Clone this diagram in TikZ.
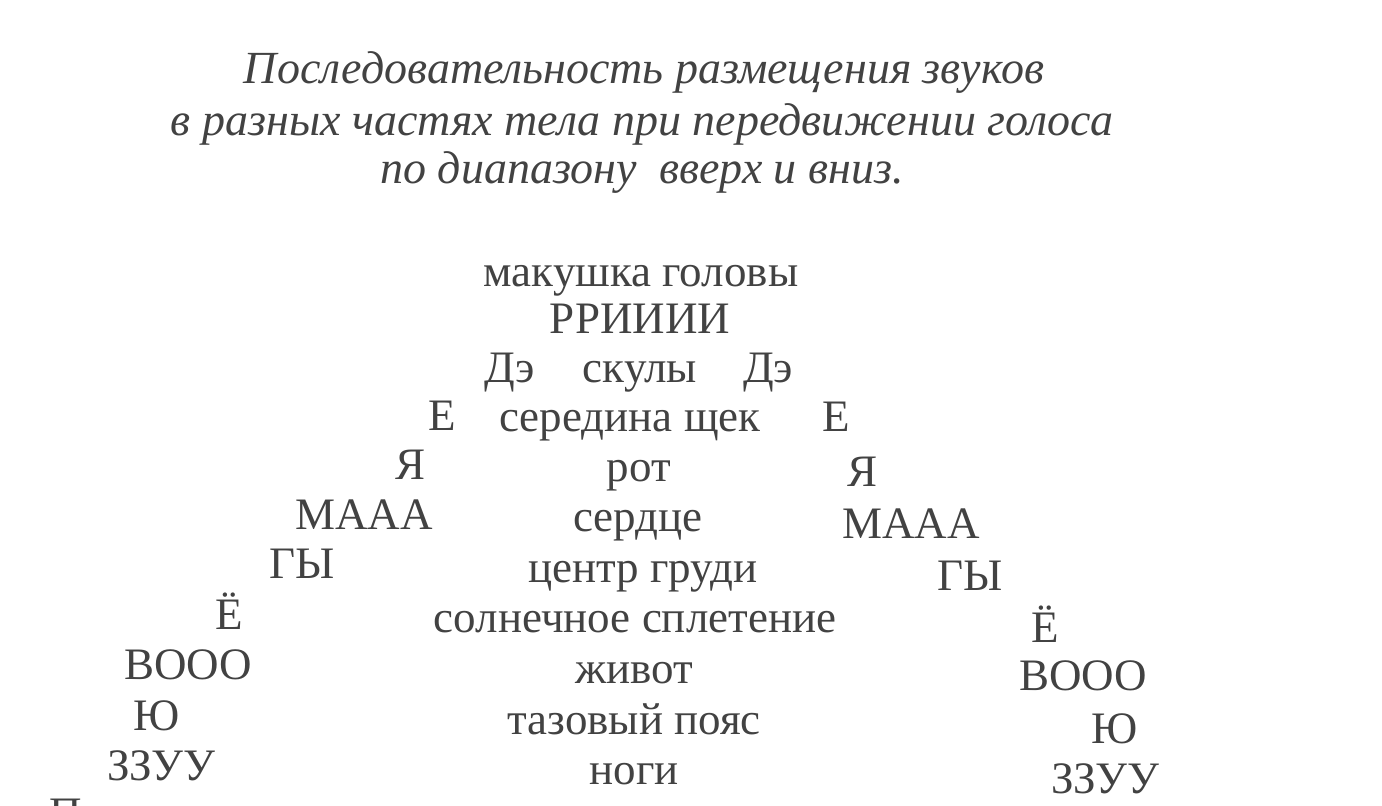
\documentclass[tikz,border=0pt]{standalone}
\usepackage{fontspec}
\setmainfont{Liberation Serif}
\usetikzlibrary{positioning}

\begin{document}
\begin{tikzpicture}[
	x=1pt, y=-1pt,
	every node/.style = {inner sep=0pt, outer sep=0pt, anchor=base, text=black!74},
	ttl/.style = {font=\fontsize{46}{54}\selectfont\itshape},
	part/.style = {font=\fontsize{45}{52}\selectfont},
	snd/.style = {font=\fontsize{45}{52}\selectfont}
     ]
	\useasboundingbox (0,0) rectangle (1382,806);
	\clip (0,0) rectangle (1382,806);
%
		\node[ttl] (t1) at (644,83) {Последовательность размещения звуков};
		\node[ttl] (t2) at (642,135) {в разных частях тела при передвижении голоса};
		\node[ttl] (t3) at (642,183) {по диапазону\ \ вверх и вниз.};
%
		\node[part] (p1)  at (641,286) {макушка головы};
		\node[snd]  (p2)  at (640,333) {РРИИИИ};
		\node[part] (p3)  at (640,382) {скулы};
		\node[part] (p4)  at (630,431) {середина щек};
		\node[part] (p5)  at (639,481) {рот};
		\node[part] (p6)  at (638,531) {сердце};
		\node[part] (p7)  at (643,582) {центр груди};
		\node[part] (p8)  at (635,632) {солнечное сплетение};
		\node[part] (p9)  at (634,683) {живот};
		\node[part] (p10) at (634,734) {тазовый пояс};
		\node[part] (p11) at (634,784) {ноги};
%
		\node[snd] (l3)  at (510,382) {Дэ};
		\node[snd] (l4)  at (442,430) {Е};
		\node[snd] (l5)  at (411,479) {Я};
		\node[snd] (l6)  at (364,529) {МААА};
		\node[snd] (l7)  at (302,578) {ГЫ};
		\node[snd] (l8)  at (229,629) {Ё};
		\node[snd] (l9)  at (188,679) {ВООО};
		\node[snd] (l10) at (157,730) {Ю};
		\node[snd] (l11) at (161,780) {ЗЗУУ};
%
		\node[snd] (r3)  at (768,382) {Дэ};
		\node[snd] (r4)  at (836,431) {Е};
		\node[snd] (r5)  at (862,486) {Я};
		\node[snd] (r6)  at (911,538) {МААА};
		\node[snd] (r7)  at (970,590) {ГЫ};
		\node[snd] (r8)  at (1045,642) {Ё};
		\node[snd] (r9)  at (1083,690) {ВООО};
		\node[snd] (r10) at (1115,743) {Ю};
		\node[snd] (r11) at (1105,793) {ЗЗУУ};
%
		\node[part] (n12) at (66,828) {П};
\end{tikzpicture}
\end{document}
